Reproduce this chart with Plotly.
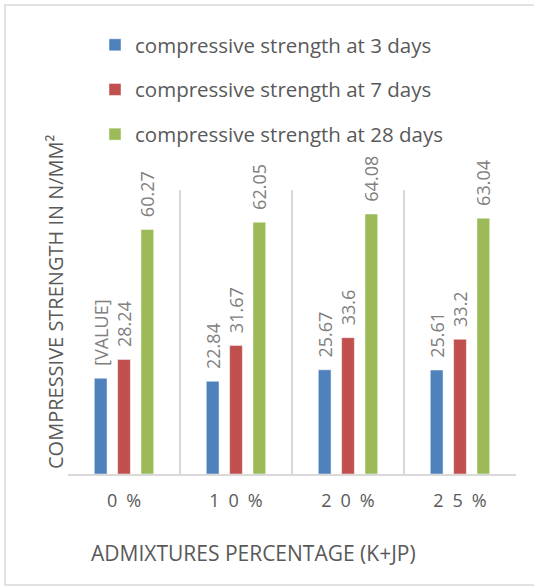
import plotly.graph_objects as go

categories = ["0%", "10%", "20%", "25%"]
tick_labels = ["0\u2002%", "1\u20020\u2002%", "2\u20020\u2002%", "2\u20025\u2002%"]
series_names = ["compressive strength at 3 days",
                "compressive strength at 7 days",
                "compressive strength at 28 days"]
day3 = [23.6, 22.84, 25.67, 25.61]
day7 = [28.24, 31.67, 33.6, 33.2]
day28 = [60.27, 62.05, 64.08, 63.04]
day3_labels = ["[VALUE]", "22.84", "25.67", "25.61"]
colors = ["#4F81BD", "#C0504D", "#9BBB59"]

W, H = 534, 587
ml, mr, mt, mb = 68, 18, 190, 113
pw, ph = W - ml - mr, H - mt - mb
FONT = "Open Sans"
PAD = "\u00a0\u00a0"

fig = go.Figure()
all_vals = [day3, day7, day28]
all_text = [day3_labels, [str(v) for v in day7], [str(v) for v in day28]]
for i, (name, vals, txt, c) in enumerate(zip(series_names, all_vals, all_text, colors)):
    fig.add_trace(go.Bar(
        x=categories, y=vals, name=name, text=[PAD + t for t in txt],
        textposition="outside", textangle=-90, cliponaxis=False,
        constraintext="none",
        textfont=dict(color="#808080", size=18, family=FONT),
        marker=dict(color=c, line=dict(color="rgba(255,255,255,0.45)", width=1)),
        legendgroup=f"g{i}",
    ))

def px_x(x):
    return (x - ml) / pw

def px_y(y):
    return 1 - (y - mt) / ph

fig.add_shape(type="rect", xref="paper", yref="paper",
              x0=px_x(5), x1=px_x(545), y0=px_y(585), y1=px_y(5),
              line=dict(color="#D9D9D9", width=1.5), fillcolor="rgba(0,0,0,0)", layer="below")

fig.add_annotation(text="ADMIXTURES PERCENTAGE (K+JP)", xref="paper", yref="paper",
                   x=px_x(253), y=px_y(553), showarrow=False,
                   xanchor="center", yanchor="middle",
                   font=dict(color="#595959", size=21, family=FONT))
fig.add_annotation(text="COMPRESSIVE STRENGTH IN N/MM²", xref="paper", yref="paper",
                   x=px_x(55), y=px_y(302), showarrow=False, textangle=-90,
                   xanchor="center", yanchor="middle",
                   font=dict(color="#595959", size=20, family=FONT))

fig.update_layout(
    width=W, height=H,
    margin=dict(l=ml, r=mr, t=mt, b=mb),
    paper_bgcolor="white", plot_bgcolor="white",
    barmode="group", bargap=0.375, bargroupgap=0.455,
    font=dict(family=FONT, color="#595959"),
    showlegend=True,
    legend=dict(x=px_x(95), y=px_y(25), xanchor="left", yanchor="top",
                traceorder="grouped", tracegroupgap=15,
                font=dict(size=20.5, color="#595959", family=FONT),
                bgcolor="rgba(0,0,0,0)"),
    xaxis=dict(type="category", tickson="boundaries", showgrid=True,
               gridcolor="#D9D9D9", gridwidth=1.5, showline=True, linecolor="#D9D9D9",
               linewidth=1.5, ticks="", tickvals=categories, ticktext=tick_labels,
               tickfont=dict(size=18, color="#595959", family=FONT),
               ticklabelstandoff=10,
               range=[-0.5, 3.5]),
    yaxis=dict(range=[0, 70], showgrid=False, showticklabels=False, zeroline=False,
               showline=False, ticks=""),
)

fig.write_html("out.html", config={"displayModeBar": False},
               post_script="document.body.style.margin='0';")
